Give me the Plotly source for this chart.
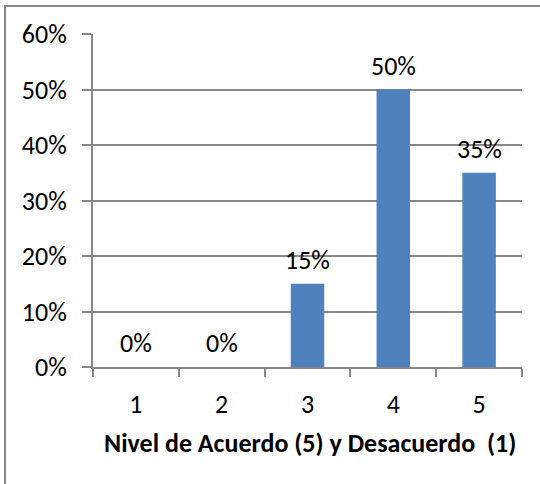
import plotly.graph_objects as go

categories = ["1", "2", "3", "4", "5"]
values = [0.00, 0.00, 0.15, 0.50, 0.35]
y_ticks = [0, 0.1, 0.2, 0.3, 0.4, 0.5, 0.6]
y_tick_labels = ["0%", "10%", "20%", "30%", "40%", "50%", "60%"]
x_title = "Nivel de Acuerdo (5) y Desacuerdo  (1)"

FONT = "Carlito, Lato, 'Liberation Sans', sans-serif"
GRID = "#888888"
FS = 26

fig = go.Figure()
fig.add_trace(go.Bar(
    x=categories, y=values, width=0.39,
    marker=dict(color="#4F81BD", line=dict(width=0)),
    hoverinfo="skip",
))
for i, v in enumerate(values):
    fig.add_annotation(x=i, y=v, text=f"{round(v*100)}%", showarrow=False,
                       yanchor="bottom", yshift=6,
                       font=dict(family=FONT, size=FS, color="#000000"))

L, T = 93, 34
W, H = 429, 333
fig.add_shape(type="rect", xref="paper", yref="paper",
              x0=(5 - L) / W, x1=(560 - L) / W,
              y0=(T + H - 500) / H, y1=(T + H - 6) / H,
              line=dict(color="#888888", width=2), fillcolor="rgba(0,0,0,0)", layer="below")

fig.add_annotation(xref="paper", yref="paper", x=(310 - L) / W, y=(T + H - 443) / H,
                   text="<b>" + x_title + "</b>", showarrow=False,
                   xanchor="center", yanchor="middle",
                   font=dict(family=FONT, size=FS, color="#000000"))

fig.update_layout(
    width=540, height=484,
    margin=dict(l=L, r=540 - L - W, t=T, b=484 - T - H, autoexpand=False),
    paper_bgcolor="white", plot_bgcolor="white",
    showlegend=False,
    font=dict(family=FONT, size=FS, color="#000000"),
    xaxis=dict(
        type="category", range=[-0.5, 4.5], showgrid=False, showline=True, linecolor=GRID, linewidth=2,
        ticks="outside", ticklen=8, tickwidth=2, tickcolor=GRID,
        tickson="boundaries", ticklabelstandoff=13, automargin=False,
        tickfont=dict(family=FONT, size=FS),
        fixedrange=True,
    ),
    yaxis=dict(
        range=[0, 0.6], tickvals=y_ticks, ticktext=y_tick_labels,
        showgrid=True, gridcolor=GRID, gridwidth=2,
        showline=True, linecolor=GRID, linewidth=2,
        ticks="outside", ticklen=9, tickwidth=2, tickcolor=GRID,
        ticklabelstandoff=10, zeroline=False, automargin=False,
        tickfont=dict(family=FONT, size=FS),
        fixedrange=True,
    ),
)

fig.write_html("out.html", config={"displayModeBar": False},
               post_script="document.body.style.margin='0';")
